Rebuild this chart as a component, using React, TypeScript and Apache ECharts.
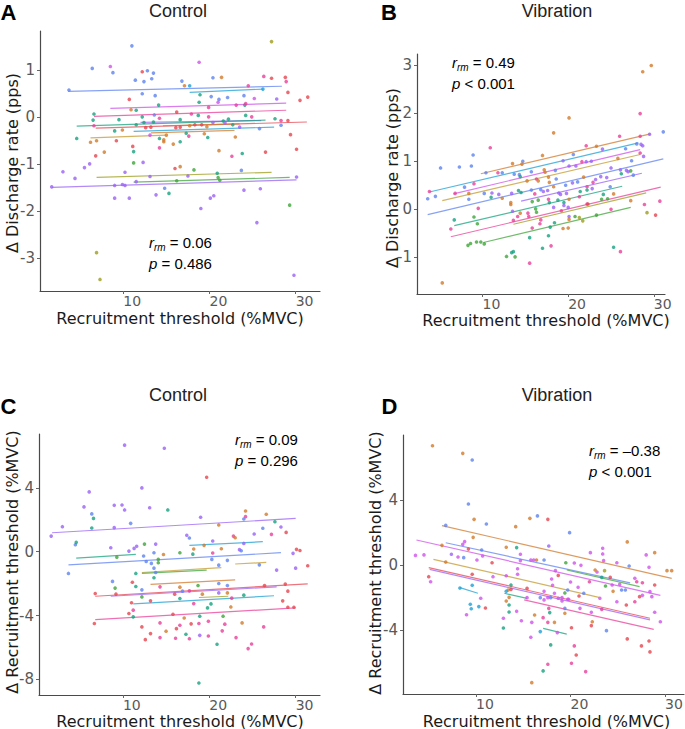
import React, { useEffect, useRef } from 'react';
import * as echarts from 'echarts';

// subject colour indices
const B = 0, C = 1, T = 2, G = 3, O = 4, R = 5, E = 6, P = 7, M = 8, V = 9, Gd = 10;
const subjectColors = ['#5f83f0', '#1ea0d4', '#16a37f', '#3fa53a', '#9d9d1c', '#d27a2b', '#e64650', '#e8409a', '#cf52ea', '#9a62f6', '#c59a2f'];

const xTicks = [10, 20, 30];
const rateControlYTicks = [-3, -2, -1, 0, 1];
const rateVibrationYTicks = [-1, 0, 1, 2, 3];
const thresholdControlYTicks = [-8, -4, 0, 4];
const thresholdVibrationYTicks = [-4, 0, 4];

// [x, y, subject]
const rateControlPoints = [
  [27.2,1.61,O],[11.0,1.52,B],[18.8,1.17,M],[8.5,1.08,M],[6.4,1.04,B],[8.8,0.95,B],[12.2,0.97,E],[12.8,0.99,B],[13.5,0.94,B],[13.3,0.82,B],[11.4,0.79,B],[12.4,0.76,B],[16.8,0.77,B],[20.4,0.84,B],[21.4,0.85,R],[26.3,0.87,P],[27.2,0.83,E],[28.8,0.85,E],[28.9,0.76,P],[24.5,0.67,P],[17.1,0.67,R],[17.7,0.67,C],[3.7,0.58,B],[26.2,0.60,C],[29.1,0.53,E],[31.4,0.43,E],[30.5,0.36,E],[12.2,0.50,B],[13.7,0.46,B],[18.9,0.48,T],[20.2,0.44,B],[21.1,0.38,B],[22.1,0.42,B],[24.0,0.46,B],[25.2,0.40,M],[27.8,0.39,V],[10.7,0.38,E],[18.8,0.32,T],[21.0,0.32,M],[14.1,0.26,T],[23.1,0.26,P],[24.1,0.26,T],[24.2,0.29,P],[10.9,0.16,R],[11.5,0.15,T],[6.6,0.07,T],[16.2,0.11,E],[19.9,0.21,P],[13.6,0.05,B],[12.2,0.01,T],[19.9,0.01,P],[24.9,0.01,P],[24.2,0.04,T],[17.9,0.07,P],[18.7,0.04,T],[6.5,-0.06,T],[9.5,-0.05,T],[14.2,-0.02,P],[16.6,-0.05,T],[22.2,-0.04,T],[21.6,-0.08,T],[20.4,-0.11,V],[21.8,-0.12,V],[27.6,-0.03,T],[28.3,-0.07,P],[29.1,-0.07,E],[28.3,-0.17,B],[6.6,-0.18,P],[11.5,-0.16,T],[12.4,-0.11,T],[13.5,-0.10,T],[12.6,-0.22,E],[13.2,-0.21,E],[16.1,-0.22,E],[16.6,-0.21,E],[17.7,-0.18,R],[18.3,-0.16,E],[19.1,-0.16,E],[19.7,-0.20,R],[22.7,-0.16,T],[23.5,-0.21,V],[25.8,-0.24,B],[9.0,-0.29,T],[9.9,-0.27,R],[4.6,-0.45,T],[6.2,-0.53,R],[6.9,-0.50,R],[9.2,-0.50,E],[13.1,-0.38,M],[14.2,-0.45,T],[14.7,-0.48,R],[14.7,-0.52,R],[15.0,-0.38,R],[15.8,-0.57,R],[16.6,-0.52,T],[17.3,-0.34,T],[17.6,-0.40,P],[19.4,-0.35,R],[19.8,-0.43,T],[23.0,-0.42,R],[29.4,-0.37,E],[11.1,-0.62,E],[11.2,-0.73,T],[14.2,-0.65,P],[6.8,-0.82,E],[7.8,-0.74,R],[21.1,-0.71,R],[22.6,-0.83,P],[23.8,-0.77,T],[26.5,-0.74,E],[30.1,-0.68,E],[6.1,-0.99,V],[5.5,-1.07,V],[3.0,-1.16,V],[4.4,-1.30,V],[11.2,-0.97,G],[12.3,-0.96,V],[10.2,-1.17,V],[16.0,-1.09,E],[16.6,-1.05,R],[18.2,-1.12,G],[17.5,-1.25,V],[13.1,-1.26,V],[11.5,-1.37,V],[16.2,-1.35,G],[20.9,-1.19,T],[21.0,-1.28,G],[21.2,-1.34,G],[23.7,-1.13,B],[30.1,-1.27,V],[1.7,-1.48,V],[9.0,-1.45,V],[9.9,-1.43,V],[10.2,-1.45,V],[14.8,-1.51,B],[15.3,-1.62,T],[13.8,-1.65,V],[24.0,-1.55,V],[25.9,-1.52,V],[9.0,-1.72,V],[10.7,-1.72,V],[20.5,-1.67,V],[20.1,-1.72,V],[29.3,-1.87,G],[19.0,-1.94,V],[25.5,-2.24,V],[6.9,-2.88,O],[7.3,-3.45,O],[29.8,-3.36,V]
];
// [subject, x1, y1, x2, y2]
const rateControlLines = [
  [B,3.6,0.55,28.4,0.66],[C,17.7,0.53,26.2,0.60],[M,8.5,0.19,28.9,0.30],[P,6.6,0.02,28.9,0.15],[V,12.0,-0.11,26.0,-0.07],[T,4.6,-0.19,26.5,-0.06],[E,6.8,-0.23,31.3,-0.10],[R,14.6,-0.18,23.5,-0.14],[C,11.2,-0.30,27.5,-0.21],[R,13.2,-0.33,22.9,-0.28],[Gd,6.2,-0.44,15.0,-0.38],[O,6.9,-1.28,27.2,-1.17],[G,11.2,-1.38,29.3,-1.28],[V,1.7,-1.49,30.1,-1.33]
];

const rateVibrationPoints = [
  [29.7,2.99,R],[28.7,2.86,R],[28.4,1.99,P],[20.1,1.90,R],[18.3,1.59,R],[31.1,1.61,B],[29.5,1.56,V],[28.4,1.52,P],[26.0,1.52,P],[10.9,1.28,P],[28.0,1.36,B],[28.5,1.35,V],[28.7,1.32,V],[22.1,1.32,P],[23.3,1.31,R],[24.0,1.25,V],[26.7,1.26,B],[28.4,1.17,P],[28.8,1.10,V],[8.9,1.13,B],[20.6,1.14,B],[17.0,1.12,R],[25.8,1.06,R],[27.4,1.01,B],[5.1,0.86,B],[7.3,0.88,B],[8.7,0.90,B],[14.7,1.0,B],[14.6,0.94,R],[13.5,0.95,R],[19.4,1.01,V],[20.1,0.90,V],[20.9,0.90,V],[21.6,0.99,P],[22.1,0.99,V],[22.7,1.0,V],[25.0,0.86,V],[26.1,0.82,V],[26.8,0.81,V],[27.0,0.78,V],[27.3,0.80,G],[26.2,0.74,T],[27.6,0.71,B],[10.4,0.76,B],[12.3,0.76,B],[11.8,0.76,P],[13.7,0.73,B],[14.3,0.72,B],[14.4,0.68,T],[15.7,0.78,B],[17.2,0.82,R],[17.3,0.77,R],[18.5,0.81,B],[16.3,0.63,P],[16.5,0.59,R],[17.7,0.67,R],[17.8,0.56,R],[18.6,0.63,B],[15.2,0.59,R],[9.0,0.53,P],[7.9,0.46,B],[3.8,0.37,P],[4.5,0.27,B],[3.6,0.22,B],[6.8,0.33,P],[8.4,0.33,R],[10.2,0.33,B],[11.0,0.25,T],[8.4,0.21,B],[11.1,0.34,V],[11.9,0.31,V],[12.3,0.23,R],[13.4,0.33,V],[14.2,0.39,T],[14.5,0.35,T],[15.7,0.40,B],[16.1,0.32,P],[16.8,0.41,B],[17.1,0.37,V],[17.6,0.39,V],[18.3,0.47,R],[18.9,0.34,V],[19.1,0.31,V],[19.8,0.33,V],[19.7,0.50,B],[20.5,0.55,V],[21.1,0.57,B],[21.8,0.67,R],[22.2,0.47,P],[22.9,0.56,P],[23.2,0.62,V],[23.8,0.68,V],[24.5,0.66,V],[21.4,0.37,T],[22.2,0.40,T],[22.8,0.43,V],[24.1,0.31,T],[24.9,0.47,B],[25.3,0.32,R],[24.6,0.22,G],[23.9,0.21,G],[27.3,0.18,R],[16.5,0.19,G],[15.8,0.16,G],[17.8,0.14,T],[18.8,0.19,T],[19.5,0.14,T],[17.7,0.21,P],[20.1,0.21,R],[21.3,0.26,P],[22.2,0.11,P],[22.3,0.11,E],[19.5,0.08,V],[18.3,0.04,V],[19.2,-0.03,P],[20.0,0.04,V],[9.5,0.02,P],[13.3,0.14,R],[13.3,0.10,R],[16.2,0.01,G],[16.3,-0.06,G],[25.0,0.0,P],[28.9,0.10,P],[30.7,0.17,P],[29.2,-0.07,O],[30.2,-0.12,E],[13.5,-0.04,V],[15.3,-0.08,P],[14.4,-0.08,R],[20.1,-0.15,V],[20.8,-0.15,G],[20.1,-0.21,R],[21.3,-0.17,O],[21.7,-0.24,O],[23.3,-0.12,G],[6.7,-0.22,T],[9.0,-0.16,G],[9.4,-0.30,G],[6.3,-0.41,P],[13.6,-0.23,P],[14.1,-0.15,P],[15.4,-0.15,P],[16.8,-0.22,P],[17.9,-0.37,T],[18.4,-0.28,T],[16.7,-0.30,P],[15.8,-0.39,P],[17.7,-0.55,T],[19.4,-0.40,R],[20.0,-0.39,R],[15.5,-0.59,T],[17.0,-0.81,T],[18.0,-0.76,P],[8.3,-0.75,G],[8.6,-0.71,G],[9.3,-0.68,G],[9.8,-0.68,G],[10.2,-0.72,G],[12.8,-0.98,G],[13.4,-0.90,T],[13.6,-0.88,T],[13.8,-0.99,G],[15.5,-1.12,P],[25.3,-0.79,T],[26.1,-0.88,P],[5.3,-1.53,R]
];
const rateVibrationLines = [
  [R,9.8,0.74,29.6,1.57],[C,3.8,0.36,28.2,1.38],[M,6.6,0.32,28.4,1.24],[Gd,5.3,0.18,28.4,1.14],[B,3.6,-0.11,31.1,1.05],[V,14.5,0.17,28.6,0.75],[T,6.7,-0.34,26.3,0.48],[P,6.3,-0.57,30.8,0.46],[O,13.6,-0.31,29.1,0.34],[G,10.1,-0.69,27.3,0.04]
];

const thresholdControlPoints = [
  [10.2,6.68,V],[14.8,6.49,V],[19.7,4.67,E],[6.1,3.75,V],[12.2,4.0,V],[5.5,2.81,V],[9.0,2.91,V],[9.9,2.93,V],[10.2,2.62,V],[13.1,2.76,V],[15.2,2.62,T],[6.4,2.37,B],[6.6,2.09,T],[19.0,2.16,V],[24.2,2.55,R],[24.2,2.20,P],[24.0,2.05,B],[26.6,2.35,R],[27.6,1.88,T],[3.0,1.57,V],[6.4,1.49,T],[9.0,1.51,V],[10.9,1.78,B],[21.1,1.68,R],[28.3,1.55,V],[26.2,1.47,B],[25.2,1.11,V],[22.8,0.98,P],[23.0,0.88,R],[27.2,1.09,P],[28.9,1.21,E],[1.7,0.98,V],[17.4,1.03,V],[17.7,0.86,B],[20.4,0.67,V],[4.5,0.44,B],[4.6,0.59,T],[12.5,0.48,G],[13.8,0.48,V],[8.6,0.25,V],[11.3,0.21,V],[11.6,0.34,V],[10.7,0.04,V],[13.6,-0.06,B],[14.7,-0.17,R],[12.4,-0.27,B],[16.6,-0.06,G],[18.1,-0.15,T],[18.2,0.17,R],[19.4,0.40,R],[20.4,-0.08,P],[21.4,0.19,R],[23.5,0.13,V],[23.7,0.06,B],[24.0,0.52,V],[29.7,-0.10,V],[30.1,0.15,E],[30.5,0.08,E],[9.3,-0.34,G],[12.7,-0.61,B],[13.3,-0.73,B],[14.1,-0.48,G],[14.1,-0.69,G],[20.3,-0.48,B],[22.1,-0.54,B],[21.1,-0.84,B],[25.8,-0.82,B],[27.8,-1.15,V],[30.0,-1.03,V],[31.4,-0.88,E],[3.7,-1.36,B],[11.5,-1.36,T],[13.6,-1.03,B],[13.8,-1.30,B],[13.6,-1.63,T],[8.8,-1.86,B],[11.1,-1.91,E],[21.1,-1.99,B],[22.1,-2.12,B],[9.1,-2.28,G],[11.5,-2.18,T],[14.3,-2.20,P],[16.6,-2.22,R],[18.7,-2.12,G],[26.4,-2.12,E],[28.8,-2.03,E],[12.2,-2.39,B],[16.9,-2.47,B],[17.7,-2.45,P],[6.8,-2.62,E],[9.2,-2.66,E],[16.0,-2.66,E],[19.2,-2.66,R],[21.1,-2.58,V],[22.1,-2.58,R],[29.1,-2.47,E],[12.2,-2.83,G],[16.6,-2.93,T],[22.6,-2.91,P],[24.0,-2.72,T],[11.0,-3.20,E],[13.2,-3.08,E],[18.2,-3.25,P],[20.2,-3.27,T],[28.5,-3.08,E],[11.2,-3.66,P],[19.8,-3.52,T],[22.5,-3.46,R],[29.1,-3.48,E],[29.8,-3.48,E],[10.7,-3.87,E],[11.2,-4.08,T],[15.8,-3.92,E],[18.9,-4.04,T],[17.1,-4.15,R],[21.6,-4.04,G],[6.7,-4.50,E],[14.3,-4.46,P],[16.6,-4.61,P],[17.9,-4.52,E],[18.8,-4.50,P],[19.9,-4.36,P],[21.8,-4.54,P],[23.8,-4.46,R],[26.3,-4.71,P],[12.2,-4.71,E],[13.2,-5.13,E],[15.0,-4.98,R],[16.2,-4.82,E],[17.3,-5.17,T],[21.5,-4.96,P],[12.6,-5.51,E],[14.3,-5.38,P],[16.1,-5.42,P],[17.7,-5.45,P],[18.9,-5.24,V],[19.9,-5.28,P],[23.1,-5.38,P],[20.9,-5.80,T],[24.9,-5.78,P],[24.5,-6.07,P],[18.8,-8.23,T]
];
const thresholdControlLines = [
  [V,1.8,1.19,30.0,2.09],[C,17.7,0.40,26.2,0.63],[T,4.6,-0.40,11.5,-0.17],[B,3.7,-0.82,28.3,-0.06],[Gd,23.0,-0.77,26.6,-0.67],[Gd,12.2,-1.30,21.4,-1.0],[G,12.2,-1.36,19.7,-1.15],[R,13.2,-2.05,23.0,-1.76],[E,6.8,-2.79,31.4,-2.01],[V,8.6,-2.79,27.8,-2.20],[O,18.8,-2.87,22.2,-2.79],[C,11.2,-3.27,27.5,-2.76],[P,6.8,-4.25,30.0,-3.52]
];

const thresholdVibrationPoints = [
  [5.4,7.34,R],[8.6,6.87,R],[9.6,6.46,B],[9.2,3.75,B],[9.8,2.81,R],[11.1,2.52,B],[15.7,2.87,R],[16.5,3.02,B],[17.6,2.81,E],[14.2,2.36,R],[6.8,2.44,B],[19.9,1.99,B],[9.7,1.70,R],[26.0,1.42,R],[17.7,1.17,V],[13.2,1.09,R],[14.3,1.07,T],[6.4,1.21,R],[8.6,1.27,M],[8.8,1.44,M],[9.2,0.98,E],[10.6,0.92,B],[7.4,0.66,V],[8.1,0.49,M],[8.7,0.45,B],[3.6,0.59,M],[4.5,0.62,M],[10.1,0.31,M],[10.7,0.55,M],[11.7,0.14,E],[14.7,0.27,M],[14.7,0.66,M],[6.8,0.18,R],[15.8,0.31,M],[16.1,0.31,M],[16.4,0.31,R],[17.2,0.31,B],[19.5,0.14,G],[20.4,0.12,M],[21.1,-0.02,M],[22.1,0.76,M],[23.4,1.03,M],[23.4,0.68,M],[23.5,0.27,M],[22.8,-0.43,M],[24.9,0.14,M],[26.2,-0.06,B],[28.0,0.62,M],[28.9,0.76,R],[28.3,-0.14,M],[30.2,-0.35,R],[30.7,-0.35,R],[5.0,-0.72,E],[5.2,-1.03,M],[9.6,-0.57,E],[9.6,-1.25,C],[8.3,-1.42,C],[9.4,-2.42,C],[9.5,-2.69,C],[10.3,-2.56,C],[9.0,-3.06,M],[10.5,-2.05,M],[11.0,-2.65,E],[11.8,-0.72,M],[13.2,-0.66,M],[13.7,-1.23,T],[13.4,-1.54,R],[13.7,-1.50,E],[14.4,-0.57,M],[14.4,-0.23,M],[13.5,-1.99,R],[13.2,-2.22,R],[13.5,-2.46,T],[13.5,-2.89,T],[13.2,-1.62,C],[14.3,-2.85,M],[15.4,-1.44,E],[15.4,-2.01,M],[14.8,-3.43,M],[12.9,-3.28,M],[12.9,-3.88,T],[15.9,-3.53,M],[16.2,-3.08,R],[15.8,-4.45,M],[16.8,-4.10,C],[15.9,-7.24,R],[17.2,-1.62,M],[17.2,-2.15,M],[16.8,-2.01,B],[17.9,-2.01,B],[17.6,-2.01,M],[18.3,-1.74,M],[18.7,-2.05,M],[19.1,-2.01,M],[18.1,-1.25,M],[18.0,-0.86,M],[18.7,-0.64,E],[18.4,-0.35,M],[20.0,-1.05,M],[19.7,-1.54,B],[19.4,-1.72,G],[20.8,-1.37,M],[19.1,-2.21,M],[19.7,-2.11,M],[19.8,-2.11,M],[17.7,-2.67,P],[17.1,-3.24,P],[17.6,-3.53,P],[17.8,-2.93,T],[17.9,-4.92,T],[17.6,-6.11,P],[17.1,-6.52,T],[18.3,-3.53,R],[18.6,-4.16,M],[19.4,-2.97,R],[19.4,-2.67,B],[20.1,-3.86,E],[20.1,-6.05,P],[20.4,-4.98,P],[20.6,-5.54,E],[21.0,-2.67,M],[20.9,-1.91,E],[21.4,-1.74,B],[22.0,-1.03,P],[21.6,-6.56,P],[22.2,-3.73,E],[22.3,-3.49,R],[22.2,-2.91,M],[23.1,-2.05,M],[23.3,-2.73,P],[23.8,-4.04,B],[22.6,-0.31,R],[23.6,-0.35,O],[23.3,-0.76,T],[24.2,-0.76,E],[24.5,-1.62,R],[23.7,-1.29,G],[24.4,-1.23,M],[25.2,-1.19,M],[24.9,-2.26,M],[25.4,-1.54,B],[25.8,-1.54,B],[25.9,-2.46,E],[26.8,-0.82,M],[27.0,-1.03,P],[27.6,-1.09,P],[27.3,-1.95,E],[26.8,-2.26,P],[27.6,-1.87,M],[28.4,-1.64,M],[28.6,-1.95,M],[28.9,-1.23,E],[28.9,-2.91,M],[29.5,-3.49,M],[26.0,-4.55,E],[27.5,-4.98,E],[28.3,-4.68,E],[28.4,-5.35,E]
];
const thresholdVibrationLines = [
  [R,6.4,2.42,30.7,-0.82],[B,6.8,1.37,26.3,-1.1],[M,3.7,1.54,29.5,-1.87],[G,19.6,-0.31,27.3,-1.33],[Gd,5.5,0.35,23.0,-1.99],[E,5.0,-0.16,28.4,-3.28],[V,5.1,-0.27,28.4,-3.38],[P,15.1,-2.15,28.8,-3.96],[C,8.3,-1.39,10.2,-1.74],[T,13.0,-1.74,15.4,-2.05],[T,17.1,-3.90,19.6,-4.25]
];

const titles = ['Control', 'Vibration', 'Control', 'Vibration'];
const panelLetters = ['A', 'B', 'C', 'D'];
const xAxisName = 'Recruitment threshold (%MVC)';
const yAxisNames = ['\u0394 Discharge rate (pps)', '\u0394 Discharge rate (pps)', '\u0394 Recruitment threshold (%MVC)', '\u0394 Recruitment threshold (%MVC)'];
const rmValues = ['0.06', '0.49', '0.09', '\u20130.38'];
const pValues = ['= 0.486', '< 0.001', '= 0.296', '< 0.001'];

const AX_FONT = 'DejaVu Sans';
const TXT_FONT = 'Liberation Sans, Arial, sans-serif';

const layout = [
  { grid: { left: 40, top: 31, width: 280, height: 260 }, x: [0.34, 32.82], y: [-3.696, 1.836], yTicks: rateControlYTicks, labelMargin: 3,
    title: [178, 11], letter: [0.5, 12], yName: [12.5, 163], xName: [180, 318.5], note: [149, 231.5] },
  { grid: { left: 417, top: 54, width: 248, height: 240 }, x: [2.35, 31.3], y: [-1.761, 3.229], yTicks: rateVibrationYTicks, labelMargin: 3,
    title: [557, 11], letter: [381, 12], yName: [392.5, 178], xName: [546, 320.5], note: [452, 51.5] },
  { grid: { left: 39, top: 434, width: 281, height: 261 }, x: [0.29, 32.82], y: [-8.98, 7.38], yTicks: thresholdControlYTicks, labelMargin: 3,
    title: [178, 395], letter: [0.5, 406.5], yName: [12.5, 562], xName: [180, 721], note: [235, 428.5] },
  { grid: { left: 403, top: 435, width: 281, height: 259 }, x: [2.28, 32.0], y: [-7.94, 8.0], yTicks: thresholdVibrationYTicks, labelMargin: 3,
    title: [557, 395], letter: [381.5, 406.5], yName: [375.5, 563], xName: [546.5, 721], note: [589, 439.5] },
];

const pointSets = [rateControlPoints, rateVibrationPoints, thresholdControlPoints, thresholdVibrationPoints];
const lineSets = [rateControlLines, rateVibrationLines, thresholdControlLines, thresholdVibrationLines];

function buildOption() {
  const grid: any[] = [];
  const xAxis: any[] = [];
  const yAxis: any[] = [];
  const series: any[] = [];
  const graphic: any[] = [];
  const axisLine = { show: true, onZero: false, lineStyle: { color: '#4a4a4a', width: 1.2 } };
  layout.forEach((L, i) => {
    grid.push({ ...L.grid, containLabel: false, outerBoundsMode: 'none', show: false });
    xAxis.push({
      type: 'value', gridIndex: i, min: L.x[0], max: L.x[1], position: 'bottom',
      axisLine, splitLine: { show: false },
      axisTick: { show: true, length: 3, customValues: xTicks, lineStyle: { color: '#666' } },
      axisLabel: { customValues: xTicks, align: 'left', margin: L.labelMargin, fontFamily: AX_FONT, fontSize: 14, color: '#595959' },
    });
    yAxis.push({
      type: 'value', gridIndex: i, min: L.y[0], max: L.y[1], position: 'left',
      axisLine, splitLine: { show: false },
      axisTick: { show: true, length: 3, customValues: L.yTicks, lineStyle: { color: '#666' } },
      axisLabel: { customValues: L.yTicks, margin: 5, fontFamily: AX_FONT, fontSize: 15, color: '#595959' },
    });
    series.push({
      type: 'lines', coordinateSystem: 'cartesian2d', xAxisIndex: i, yAxisIndex: i, silent: true, z: 2,
      polyline: false,
      lineStyle: { width: 1.2, opacity: 0.75 },
      data: lineSets[i].map((l) => ({ coords: [[l[1], l[2]], [l[3], l[4]]], lineStyle: { color: subjectColors[l[0]] } })),
    });
    series.push({
      type: 'scatter', xAxisIndex: i, yAxisIndex: i, symbol: 'circle', symbolSize: 3.6, silent: true, z: 3,
      data: pointSets[i].map((p) => ({ value: [p[0], p[1]], itemStyle: { color: subjectColors[p[2]] } })),
    });
    graphic.push({ type: 'text', x: L.title[0], y: L.title[1], style: { text: titles[i], fontFamily: TXT_FONT, fontSize: 18, fill: '#222', align: 'center', verticalAlign: 'middle' } });
    graphic.push({ type: 'text', x: L.letter[0], y: L.letter[1], style: { text: panelLetters[i], fontFamily: TXT_FONT, fontSize: 22, fontWeight: 'bold', fill: '#000', align: 'left', verticalAlign: 'middle' } });
    graphic.push({ type: 'text', x: L.xName[0], y: L.xName[1], style: { text: xAxisName, fontFamily: AX_FONT, fontSize: 16, fill: '#1a1a1a', align: 'center', verticalAlign: 'middle' } });
    graphic.push({ type: 'text', x: L.yName[0], y: L.yName[1], rotation: Math.PI / 2, style: { text: yAxisNames[i], fontFamily: AX_FONT, fontSize: 16, fill: '#1a1a1a', align: 'center', verticalAlign: 'middle' } });
    graphic.push({
      type: 'text', x: L.note[0], y: L.note[1],
      style: {
        text: `{i|r}{s|rm}{n| ${'= ' + rmValues[i]}}\n{i|p}{n| ${pValues[i]}}`,
        align: 'left', verticalAlign: 'top', fontFamily: TXT_FONT, fontSize: 15, fill: '#000',
        rich: {
          i: { fontStyle: 'italic', fontFamily: TXT_FONT, fontSize: 15, lineHeight: 21, fill: '#000', verticalAlign: 'middle' },
          s: { fontStyle: 'italic', fontFamily: TXT_FONT, fontSize: 10, lineHeight: 13, fill: '#000', verticalAlign: 'bottom' },
          n: { fontFamily: TXT_FONT, fontSize: 15, lineHeight: 21, fill: '#000', verticalAlign: 'middle' },
        },
      },
    });
  });
  return { animation: false, backgroundColor: '#ffffff', grid, xAxis, yAxis, series, graphic };
}

export default function App() {
  const ref = useRef<HTMLDivElement>(null);
  useEffect(() => {
    const chart = echarts.init(ref.current as HTMLDivElement, null, { renderer: 'svg' });
    chart.setOption(buildOption() as any);
    return () => chart.dispose();
  }, []);
  return <div ref={ref} style={{ position: 'fixed', left: 0, top: 0, width: 685, height: 729, background: '#fff' }} />;
}
